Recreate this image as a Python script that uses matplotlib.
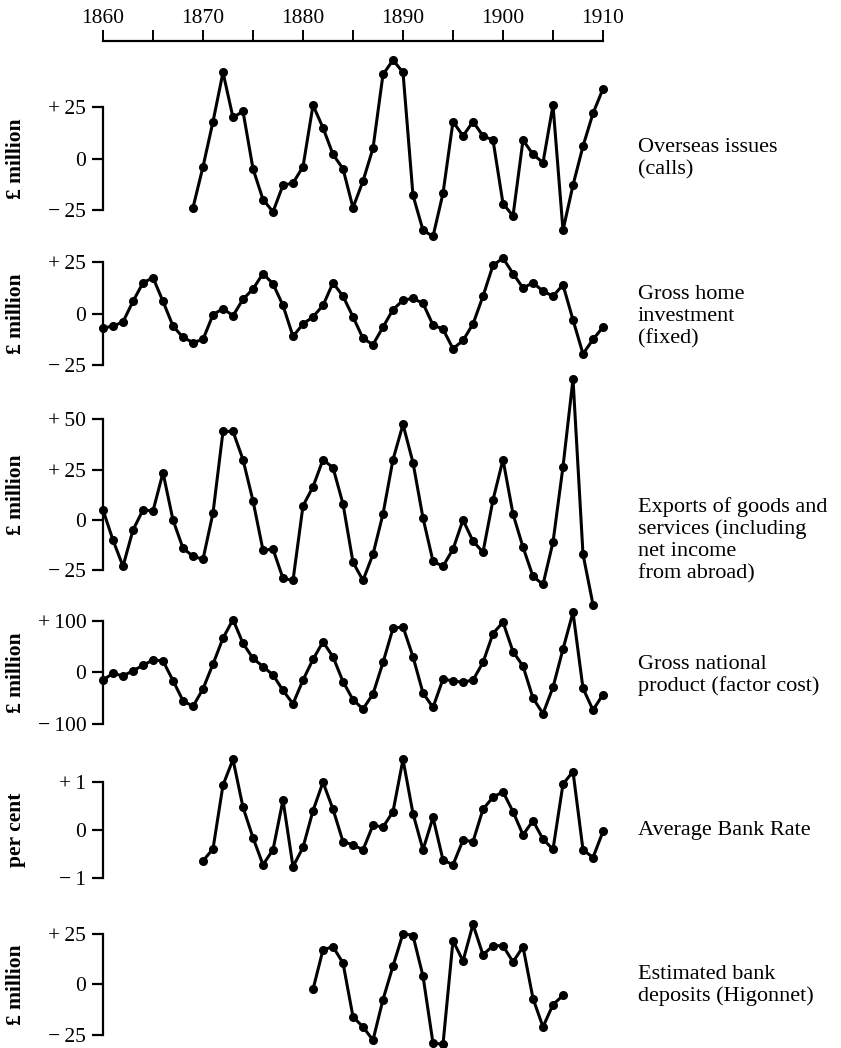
import numpy as np
import matplotlib
matplotlib.use('Agg')
import matplotlib.pyplot as plt

plt.rcParams['font.family'] = ['Liberation Serif', 'DejaVu Serif']
plt.rcParams['axes.unicode_minus'] = True

# data (deviations from trend)
years_overseas = np.arange(1869, 1911)
overseas = [-24, -4, 18, 42, 20, 23, -5, -20, -26, -13, -12, -4, 26, 15, 2, -5,
            -24, -11, 5, 41, 48, 42, -18, -35, -38, -17, 18, 11, 18, 11, 9, -22,
            -28, 9, 2, -2, 26, -35, -13, 6, 22, 34]

years_home = np.arange(1860, 1911)
home_inv = [-7, -6, -4, 6, 15, 17.5, 6, -6, -11.5, -14, -12.5, -0.5, 2.5, -1, 7, 12,
            19.5, 14.5, 4, -11, -5, -1.5, 4, 15, 8.5, -1.5, -12, -15, -6.5, 2, 6.5,
            7.5, 5, -5.5, -7.5, -17, -13, -5, 8.5, 23.5, 27, 19.5, 12.5, 15, 11, 8.5,
            14, -3, -19.5, -12.5, -6.5]

years_exports = np.arange(1860, 1910)
exports = [5, -10, -23, -5, 5, 4.5, 23.5, 0, -14, -18,
           -19.5, 3.5, 44, 44, 30, 9.5, -15, -14.5, -29, -30,
           7, 16.5, 30, 26, 8, -21, -30, -17, 3, 30,
           47.5, 28.5, 1, -20.5, -23, -14.5, 0, -10.5, -16, 10,
           30, 3, -13.5, -28, -32, -11, 26.5, 70, -17, -42]

years_gnp = np.arange(1860, 1911)
gnp = [-15, -2, -7, 3, 13.5, 24, 22, -16, -55, -66,
       -32, 16, 66, 102, 56, 27, 11, -5, -35, -61,
       -15, 25, 59, 30, -18, -53, -71, -42, 19, 85,
       88, 30, -40, -68, -13, -17, -19, -15, 19, 75,
       97, 40, 12, -50, -80, -29, 45, 116, -31, -73, -43]

years_rate = np.arange(1870, 1911)
bank_rate = [-0.64, -0.39, 0.93, 1.46, 0.47, -0.16, -0.72, -0.41, 0.62, -0.76,
             -0.36, 0.40, 0.99, 0.43, -0.24, -0.31, -0.41, 0.10, 0.06, 0.38,
             1.46, 0.34, -0.41, 0.26, -0.62, -0.72, -0.21, -0.24, 0.43, 0.68,
             0.79, 0.38, -0.10, 0.19, -0.19, -0.40, 0.95, 1.21, -0.41, -0.57, -0.03]

years_dep = np.arange(1881, 1907)
deposits = [-2.5, 17, 18.5, 10.5, -16, -21, -27.5, -7.5, 9, 25, 24, 4, -29,
            -29.5, 21.5, 11.5, 29.5, 14.5, 19, 19, 11, 18.5, -7, -21, -10, -5.5]

W, H = 841, 1048
X0, X1 = 103, 603   # pixel x of 1860 and 1910

fig = plt.figure(figsize=(W / 100, H / 100), dpi=100)


def px_axes(y0, k, lo, hi):
    # y0: pixel row of zero, k: pixels per unit
    top = y0 - hi * k
    bot = y0 - lo * k
    return fig.add_axes([X0 / W, 1 - bot / H, (X1 - X0) / W, (bot - top) / H])


TS = '\u2009'  # thin space after the sign
panels = [
    (years_overseas, overseas, 158.5, 2.05, [25, 0, -25],
     ['+' + TS + '25', '0', '−' + TS + '25'],
     '£ million', 'Overseas issues\n(calls)', 158.5),
    (years_home, home_inv, 313.7, 2.06, [25, 0, -25],
     ['+' + TS + '25', '0', '−' + TS + '25'],
     '£ million', 'Gross home\ninvestment\n(fixed)', 317),
    (years_exports, exports, 520, 2.013, [50, 25, 0, -25],
     ['+' + TS + '50', '+' + TS + '25', '0', '−' + TS + '25'],
     '£ million', 'Exports of goods and\nservices (including\nnet income\nfrom abroad)', 540),
    (years_gnp, gnp, 672.3, 0.517, [100, 0, -100],
     ['+' + TS + '100', '0', '−' + TS + '100'],
     '£ million', 'Gross national\nproduct (factor cost)', 675.5),
    (years_rate, bank_rate, 830, 48.3, [1, 0, -1],
     ['+' + TS + '1', '0', '−' + TS + '1'],
     'per cent', 'Average Bank Rate', 830),
    (years_dep, deposits, 984.3, 2.03, [25, 0, -25],
     ['+' + TS + '25', '0', '−' + TS + '25'],
     '£ million', 'Estimated bank\ndeposits (Higonnet)', 985.5),
]

for yrs, vals, y0, k, ticks, labels, unit, desc, desc_y in panels:
    lo, hi = min(ticks), max(ticks)
    ax = px_axes(y0, k, lo, hi)
    ax.set_xlim(1860, 1910)
    ax.set_ylim(lo, hi)
    ax.patch.set_visible(False)
    for s in ['top', 'right', 'bottom']:
        ax.spines[s].set_visible(False)
    ax.spines['left'].set_linewidth(1.6)
    ax.set_xticks([])
    ax.set_yticks(ticks)
    ax.set_yticklabels(labels)
    ax.tick_params(axis='y', length=8, width=1.6, pad=4, labelsize=15.5)
    ax.plot(yrs, vals, '-o', color='black', lw=2.2, ms=5.5, clip_on=False)

    yc = y0 - (hi + lo) / 2 * k
    fig.text(16 / W, 1 - yc / H, unit, rotation=90, ha='center', va='center',
             fontsize=15.5, fontweight='bold')
    fig.text(638 / W, 1 - desc_y / H, desc, ha='left', va='center',
             fontsize=16, linespacing=1.2)

# year scale along the top
axt = fig.add_axes([X0 / W, 1 - 42 / H, (X1 - X0) / W, 0.0005])
axt.set_xlim(1860, 1910)
axt.patch.set_visible(False)
for s in ['left', 'right', 'bottom']:
    axt.spines[s].set_visible(False)
axt.spines['top'].set_linewidth(1.6)
axt.set_yticks([])
axt.xaxis.tick_top()
axt.set_xticks([1860, 1870, 1880, 1890, 1900, 1910])
axt.set_xticks([1865, 1875, 1885, 1895, 1905], minor=True)
axt.tick_params(axis='x', which='both', direction='out', length=8, width=1.4,
                pad=2, labelsize=15.5)

fig.savefig('out.png', dpi=100)
